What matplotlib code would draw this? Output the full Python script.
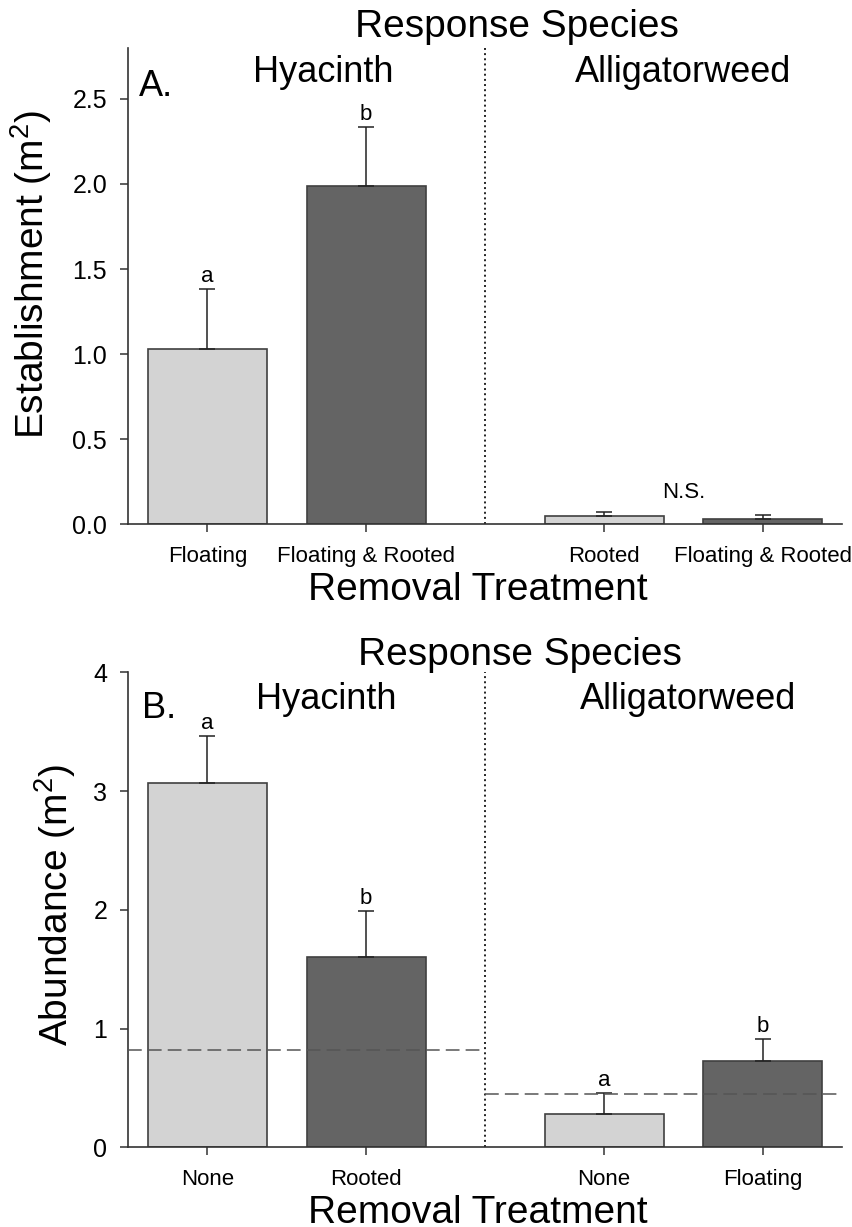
import numpy as np
import matplotlib
matplotlib.use("Agg")
import matplotlib.pyplot as plt

plt.rcParams["font.family"] = ["Liberation Sans", "DejaVu Sans"]
plt.rcParams["mathtext.fontset"] = "custom"
plt.rcParams["mathtext.rm"] = "Liberation Sans"

# bar layout: two treatments per response species
positions = [1, 2, 3.5, 4.5]
species = ["Hyacinth", "Alligatorweed"]

# panel A: establishment
labels_a = ["Floating", "Floating & Rooted", "Rooted", "Floating & Rooted"]
mean_a = [1.03, 1.99, 0.047, 0.031]
se_a = [0.35, 0.345, 0.022, 0.022]
letters_a = ["a", "b", "", ""]

# panel B: abundance
labels_b = ["None", "Rooted", "None", "Floating"]
mean_b = [3.07, 1.60, 0.28, 0.73]
se_b = [0.39, 0.39, 0.175, 0.18]
letters_b = ["a", "b", "a", "b"]
baseline_b = [0.82, 0.45]  # dashed reference lines (hyacinth, alligatorweed)

light, dark = "#d3d3d3", "#646464"
colors = [light, dark, light, dark]
divider = 2.75

fig = plt.figure(figsize=(8.53, 12.27), dpi=100)
ax_a = fig.add_axes([0.1501, 0.5729, 0.8371, 0.3880])
ax_b = fig.add_axes([0.1501, 0.0650, 0.8371, 0.3871])


def draw_panel(ax, means, ses, letters, labels, ymax):
    ax.bar(positions, means, width=0.75, color=colors, edgecolor="#404040",
           linewidth=1.2, zorder=2)
    ax.errorbar(positions, means, yerr=[np.zeros(len(means)), ses], fmt="none",
                ecolor="#222222", elinewidth=1.1, capsize=5.5, capthick=1.1,
                zorder=3)
    for x, m, s, t in zip(positions, means, ses, letters):
        if t:
            ax.annotate(t, (x, m + s), xytext=(0, 5), textcoords="offset points",
                        ha="center", va="baseline", fontsize=16)
    ax.axvline(divider, color="#222222", linestyle=":", linewidth=1.4, zorder=1)
    ax.set_xlim(0.5, 5.0)
    ax.set_ylim(0, ymax)
    ax.set_xticks(positions)
    ax.set_xticklabels(labels, fontsize=16)
    for s in ["top", "right"]:
        ax.spines[s].set_visible(False)
    for s in ["left", "bottom"]:
        ax.spines[s].set_color("#333333")
        ax.spines[s].set_linewidth(1.2)
    ax.tick_params(axis="y", labelsize=18, length=6, width=1.1, pad=9,
                   color="#333333")
    ax.tick_params(axis="x", length=6, width=1.1, pad=10, color="#333333")


draw_panel(ax_a, mean_a, se_a, letters_a, labels_a, 2.8)
ax_a.set_yticks(np.arange(0, 2.51, 0.5))
ax_a.set_yticklabels([f"{v:.1f}" for v in np.arange(0, 2.51, 0.5)])
ax_a.text(4.0, 0.153, "N.S.", ha="center", va="baseline", fontsize=16)
ax_a.text(2.95, 2.865, "Response Species", ha="center", va="baseline",
          fontsize=28, clip_on=False)
ax_a.text(1.73, 2.60, species[0], ha="center", va="baseline", fontsize=26)
ax_a.text(4.0, 2.60, species[1], ha="center", va="baseline", fontsize=26)
ax_a.text(0.569, 2.52, "A.", ha="left", va="baseline", fontsize=26)

draw_panel(ax_b, mean_b, se_b, letters_b, labels_b, 4)
ax_b.set_yticks([0, 1, 2, 3, 4])
ax_b.hlines(baseline_b, [0.5, divider], [divider, 5.0], colors="#555555",
            linestyles=(0, (9, 4)), linewidth=1.1, zorder=4)
ax_b.text(2.97, 4.06, "Response Species", ha="center", va="baseline",
          fontsize=28, clip_on=False)
ax_b.text(1.75, 3.69, species[0], ha="center", va="baseline", fontsize=26)
ax_b.text(4.03, 3.69, species[1], ha="center", va="baseline", fontsize=26)
ax_b.text(0.588, 3.615, "B.", ha="left", va="baseline", fontsize=26)

# axis titles
fig.text(478 / 853, 1 - 600 / 1227, "Removal Treatment", ha="center",
         va="baseline", fontsize=28)
fig.text(478 / 853, 1 - 1223 / 1227, "Removal Treatment", ha="center",
         va="baseline", fontsize=28)
fig.text(31 / 853, 1 - 274 / 1227, r"Establishment (m$^2$)", rotation=90,
         ha="center", va="center", fontsize=28)
fig.text(55 / 853, 1 - 905 / 1227, r"Abundance (m$^2$)", rotation=90,
         ha="center", va="center", fontsize=28)

fig.savefig("out.png", dpi=100)
